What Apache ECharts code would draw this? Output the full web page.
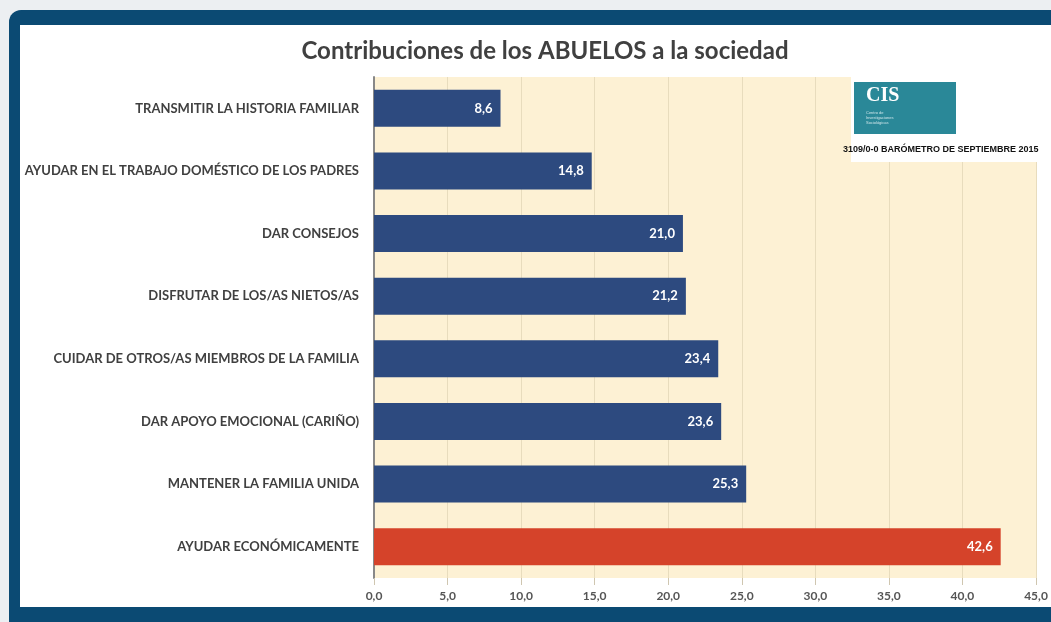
<!DOCTYPE html>
<html>
<head>
<meta charset="utf-8">
<script src="https://cdn.jsdelivr.net/npm/echarts@6/dist/echarts.min.js"></script>
<style>
html,body{margin:0;padding:0;background:#eceff2;}
#c{width:1051px;height:622px;}
</style>
</head>
<body>
<div id="c"></div>
<script>
const categories = [
  'TRANSMITIR LA HISTORIA FAMILIAR',
  'AYUDAR EN EL TRABAJO DOMÉSTICO DE LOS PADRES',
  'DAR CONSEJOS',
  'DISFRUTAR DE LOS/AS NIETOS/AS',
  'CUIDAR DE OTROS/AS MIEMBROS DE LA FAMILIA',
  'DAR APOYO EMOCIONAL (CARIÑO)',
  'MANTENER LA FAMILIA UNIDA',
  'AYUDAR ECONÓMICAMENTE'
];
const values = [8.6, 14.8, 21.0, 21.2, 23.4, 23.6, 25.3, 42.6];
const highlighted = [false, false, false, false, false, false, false, true];
const titleText = 'Contribuciones de los ABUELOS a la sociedad';
const sourceText = '3109/0-0 BARÓMETRO DE SEPTIEMBRE 2015';

const fmt = v => Number(v).toFixed(1).replace('.', ',');
const chart = echarts.init(document.getElementById('c'), null, {renderer: 'canvas'});
chart.setOption({
  backgroundColor: '#eceff2',
  animation: false,
  title: {
    text: titleText,
    left: 540, top: 34, textAlign: 'center',
    textStyle: {fontFamily: 'Lato', fontWeight: 'bold', fontSize: 24, color: '#404040'}
  },
  graphic: [
    {type: 'rect', z: -10, shape: {x: 9, y: 10, width: 1200, height: 700, r: 12}, style: {fill: '#0b4a73'}},
    {type: 'rect', z: -9, shape: {x: 20, y: 25, width: 1200, height: 582}, style: {fill: '#ffffff'}},
    {type: 'rect', z: 10, shape: {x: 851, y: 76, width: 186, height: 86}, style: {fill: '#ffffff'}},
    {type: 'rect', z: 11, shape: {x: 854, y: 82, width: 102, height: 52}, style: {fill: '#2a8898'}},
    {type: 'text', z: 12, left: 866, top: 86, style: {text: 'CIS', fill: '#ffffff', font: 'bold 20px "Liberation Serif"'}},
    {type: 'text', z: 12, left: 866, top: 110, style: {text: 'Centro de\nInvestigaciones\nSociológicas', fill: '#cfe6ea', font: '4px "Liberation Sans"', lineHeight: 5}},
    {type: 'text', z: 12, left: 843, top: 145, style: {text: sourceText, fill: '#111111', font: 'bold 9px "Liberation Sans Narrow", "Liberation Sans"'}}
  ],
  grid: {left: 374, right: 15, top: 77, bottom: 44, show: true, backgroundColor: '#fdf1d4', borderWidth: 0, containLabel: false},
  xAxis: {
    type: 'value', min: 0, max: 45, interval: 5,
    axisLine: {show: false},
    axisTick: {show: true, length: 7, lineStyle: {color: '#cfc6b0'}},
    splitLine: {show: true, lineStyle: {color: '#e8dcbd', width: 1}},
    axisLabel: {formatter: fmt, color: '#555555', fontFamily: 'Lato', fontWeight: 'bold', fontSize: 12, margin: 12}
  },
  yAxis: {
    type: 'category', inverse: true, data: categories,
    axisLine: {show: true, lineStyle: {color: '#888888', width: 2}},
    axisTick: {show: false},
    axisLabel: {color: '#404040', fontFamily: 'Lato', fontWeight: 'bold', fontSize: 13, margin: 15}
  },
  series: [{
    type: 'bar', barWidth: '59%',
    data: values.map((v, i) => ({value: v, itemStyle: {color: highlighted[i] ? '#d5432a' : '#2d4a7f'}})),
    label: {show: true, position: 'insideRight', distance: 8, formatter: p => fmt(p.value), color: '#ffffff', fontFamily: 'Lato', fontWeight: 'bold', fontSize: 13}
  }]
});
</script>
</body>
</html>
